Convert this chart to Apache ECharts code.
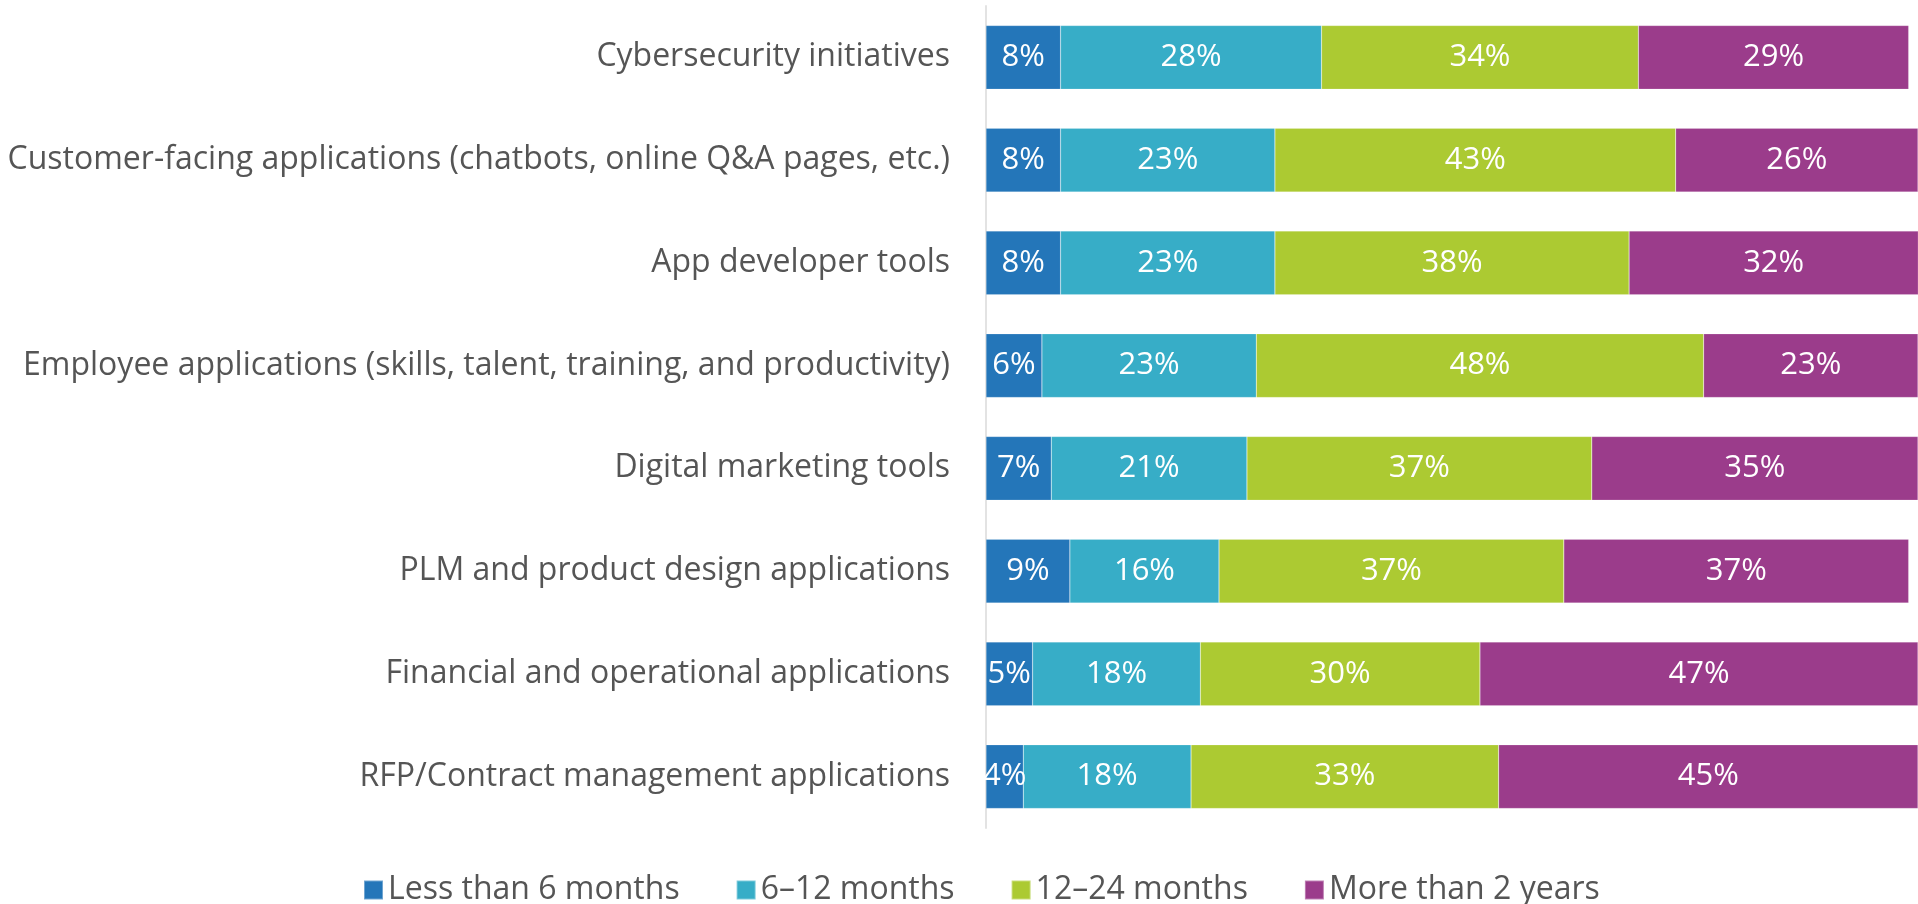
<!DOCTYPE html>
<html>
<head>
<meta charset="utf-8">
<script src="https://cdn.jsdelivr.net/npm/echarts@6/dist/echarts.min.js"></script>
<style>
  html, body { margin: 0; padding: 0; background: #fff; }
  #chart { width: 1918px; height: 904px; }
</style>
</head>
<body>
<div id="chart"></div>
<script>
// categories, top to bottom
var categories = [
  'Cybersecurity initiatives',
  'Customer-facing applications (chatbots, online Q&A pages, etc.)',
  'App developer tools',
  'Employee applications (skills, talent, training, and productivity)',
  'Digital marketing tools',
  'PLM and product design applications',
  'Financial and operational applications',
  'RFP/Contract management applications'
];
var seriesNames = ['Less than 6 months', '6\u201312 months', '12\u201324 months', 'More than 2 years'];
var lessThan6 = [8, 8, 8, 6, 7, 9, 5, 4];
var sixTo12 = [28, 23, 23, 23, 21, 16, 18, 18];
var twelveTo24 = [34, 43, 38, 48, 37, 37, 30, 33];
var moreThan2 = [29, 26, 32, 23, 35, 37, 47, 45];
var colors = ['#2476b9', '#37adc7', '#acca32', '#9b3c8b'];

var chart = echarts.init(document.getElementById('chart'));
var font = '"Open Sans", sans-serif';

function makeSeries(name, data, color) {
  return {
    name: name,
    type: 'bar',
    stack: 'total',
    barCategoryGap: '38%',
    data: data,
    itemStyle: { color: color, borderColor: 'rgba(255,255,255,0.35)', borderWidth: 0.5 },
    label: {
      show: true,
      position: 'inside',
      color: '#fff',
      fontFamily: font,
      fontSize: 31,
      formatter: '{c}%'
    },
    emphasis: { disabled: true }
  };
}

chart.setOption({
  animation: false,
  textStyle: { fontFamily: font },
  grid: { left: 986, right: 0, top: 6, bottom: 76 },
  legend: {
    top: 869,
    left: 358,
    itemWidth: 19,
    itemHeight: 19,
    itemGap: 56,
    icon: 'rect',
    textStyle: { fontFamily: font, fontSize: 32, color: '#555' },
    data: seriesNames
  },
  xAxis: {
    type: 'value',
    min: 0,
    max: 100,
    show: false
  },
  yAxis: {
    type: 'category',
    inverse: true,
    data: categories,
    axisLine: { show: true, lineStyle: { color: '#e3e3e3', width: 2 } },
    axisTick: { show: false },
    axisLabel: { margin: 36, color: '#555', fontFamily: font, fontSize: 32 }
  },
  series: [
    makeSeries(seriesNames[0], lessThan6, colors[0]),
    makeSeries(seriesNames[1], sixTo12, colors[1]),
    makeSeries(seriesNames[2], twelveTo24, colors[2]),
    makeSeries(seriesNames[3], moreThan2, colors[3])
  ]
});
</script>
</body>
</html>
